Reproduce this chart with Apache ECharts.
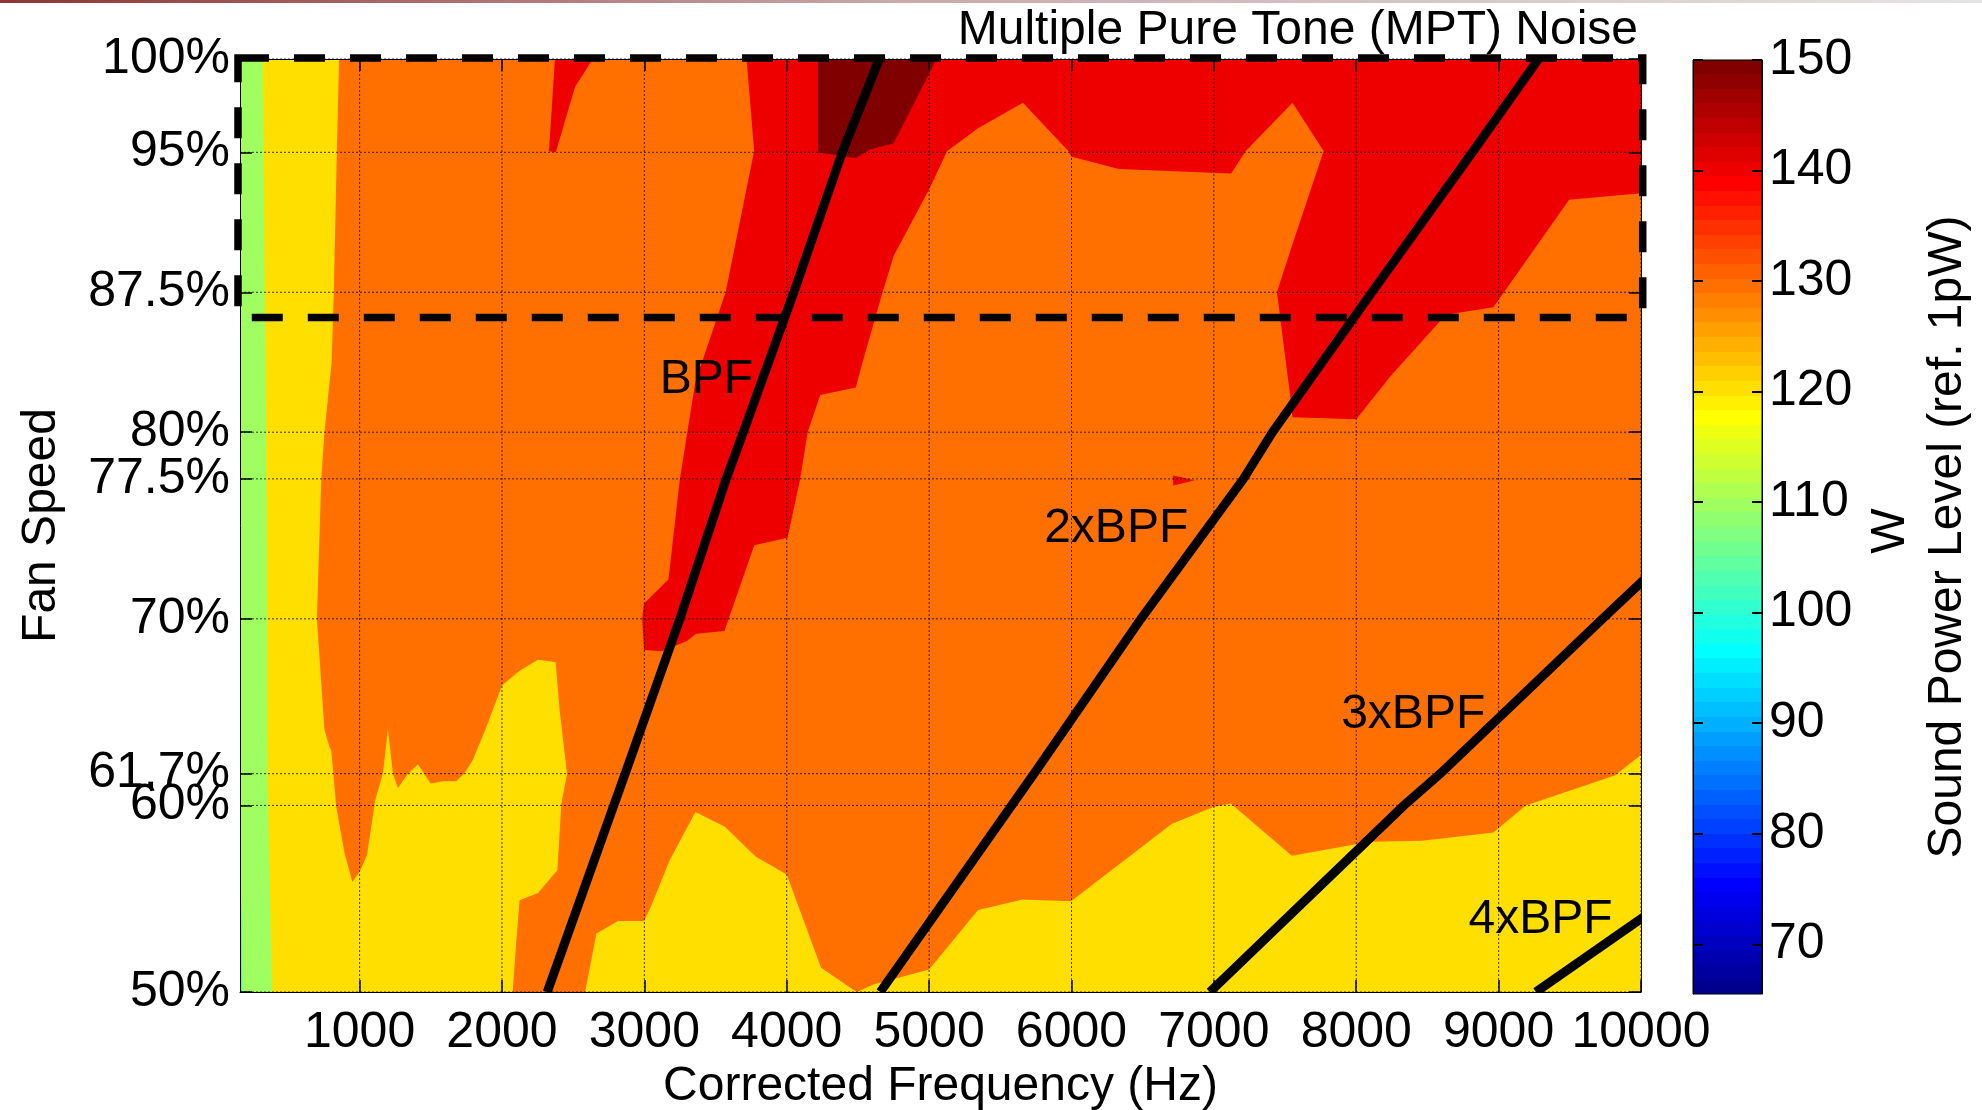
<!DOCTYPE html>
<html>
<head>
<meta charset="utf-8">
<title>Multiple Pure Tone (MPT) Noise</title>
<script src="https://cdn.jsdelivr.net/npm/echarts@6/dist/echarts.min.js"></script>
<style>
  html, body { margin: 0; padding: 0; background: #ffffff; }
  #chart { width: 1982px; height: 1110px; }
</style>
</head>
<body>
<div id="chart"></div>
<script>
// ---- Axis ranges and ticks ----
const freqRange = [160, 10000];          // Hz
const speedRange = [50, 100];            // % fan speed
const levelRange = [65.5, 150];          // dB re 1 pW (colour scale)

const freqTicks = [1000, 2000, 3000, 4000, 5000, 6000, 7000, 8000, 9000, 10000];
const speedTicks = [50, 60, 61.7, 70, 77.5, 80, 87.5, 95, 100];
const levelTicks = [70, 80, 90, 100, 110, 120, 130, 140, 150];

// ---- Blade passing frequency and harmonics at the measured speeds ----
const bpfSpeeds = [50, 60, 61.7, 70, 77.5, 80, 87.5, 95, 100];
const bpf1x = [2318, 2785, 2865, 3250, 3575, 3695, 4050, 4390, 4650];
const bpf2x = [4657, 5580, 5737, 6488, 7208, 7412, 8110, 8815, 9280];
const bpf3xSpeeds = [50, 60, 61.7, 70, 77.5];
const bpf3x = [6972, 8335, 8590, 9730, 10770];
const bpf4xSpeeds = [50, 60];
const bpf4x = [9262, 11140];

// ---- Filled contour outlines [frequency (Hz), fan speed (%)] ----
const contour110 = [[160, 50], [10000, 50], [10000, 100], [160, 100]];
const contour100 = [[160, 50], [176, 50], [172, 54], [160, 57]];
const contour120 = [[320, 100], [334, 87.5], [344, 80], [350, 70], [352, 61.7], [386, 50], [10000, 50], [10000, 100]];
const contour130 = [
  [856, 100], [840, 95], [819, 87.5], [803, 83.7], [753, 80], [731, 77.5], [700, 70],
  [753, 64.06], [789, 63.12], [801, 62.95], [836, 59.92], [895, 57.42], [949, 55.9],
  [1000, 56.44], [1052, 57.33], [1110, 60.27], [1164, 61.73], [1199, 64.1], [1234, 61.7],
  [1269, 60.93], [1340, 61.7], [1410, 62.2], [1499, 61.17], [1586, 61.3], [1679, 61.3],
  [1738, 61.73], [1796, 62.45], [1890, 64.19], [2000, 66.42], [2124, 67.22], [2253, 67.8],
  [2377, 67.67], [2405, 65.08], [2457, 61.7], [2417, 60.09], [2389, 56.53], [2253, 55.31],
  [2124, 54.92], [2101, 52.78], [2075, 50], [2584, 50], [2663, 53.14], [2815, 53.8],
  [2998, 53.8], [3047, 54.6], [3178, 57.06], [3359, 59.65], [3565, 58.85], [3781, 57.26],
  [4000, 56.3], [4241, 51.3], [4491, 50.0], [4609, 50.4], [5000, 51.2], [5344, 54.4],
  [5656, 54.96], [5997, 54.87], [6703, 59.0], [6991, 59.9], [7119, 60.1], [7547, 57.3],
  [8097, 58.05], [8462, 58.1], [8963, 58.55], [9191, 60.0], [9815, 61.6], [10000, 62.7],
  [10000, 100]
];
const contour140a = [
  [3718, 100], [10000, 100], [10000, 92.8], [9495, 92.46], [8963, 86.7], [8629, 86.3],
  [8240, 83.0], [8000, 80.7], [7552, 80.8], [7537, 81.9], [7506, 83.74], [7443, 87.5],
  [7552, 90.07], [7771, 95.07], [7552, 97.65], [7224, 95.07], [7121, 93.86], [6332, 94.1],
  [5997, 94.77], [5981, 95.04], [5659, 97.65], [5346, 96.3], [5127, 95.07], [5002, 93.05],
  [4751, 89.44], [4673, 87.5], [4532, 83.74], [4485, 82.4], [4235, 82.0], [4147, 80.0],
  [4093, 77.45], [4006, 74.34], [3772, 73.94], [3562, 69.34], [3365, 69.2], [3296, 68.8],
  [3120, 68.26], [2998, 68.33], [2985, 70.0], [2997, 70.8], [3169, 72.1], [3249, 77.45],
  [3358, 82.7], [3571, 87.5], [3771, 95.07]
];
const contour140b = [[2372, 100], [2638, 100], [2513, 98.5], [2378, 95.0], [2330, 95.05]];
const contour140c = [[6714, 77.68], [6864, 77.43], [6714, 77.15]];
const contour150 = [[4219, 100], [5049, 100], [5002, 99.24], [4751, 95.49], [4579, 95.13], [4485, 94.68], [4219, 95.0]];

// ---- Harmonic labels ----
const harmonicNames = ['BPF', '2xBPF', '3xBPF', '4xBPF'];
const harmonicLabelAt = [[3436, 83.0], [6314, 75.04], [8400, 65.05], [9294, 54.08]];

// ---- Highlighted MPT region (dashed box) ----
const mptBox = [[146, 100.05], [10012, 100.05], [10012, 86.15], [146, 86.15]];

const FONT = "'Liberation Sans', Arial, Helvetica, sans-serif";
const TICK_FONT = 50;
const TEXT_FONT = 48;

// MATLAB-style jet colormap with m entries
function jetColormap(m) {
  const n = Math.ceil(m / 4);
  const u = [];
  for (let i = 1; i <= n; i++) u.push(i / n);
  for (let i = 1; i < n; i++) u.push(1);
  for (let i = n; i >= 1; i--) u.push(i / n);
  const gOff = Math.ceil(n / 2) - (m % 4 === 1 ? 1 : 0);
  const J = Array.from({ length: m }, () => [0, 0, 0]);
  for (let k = 0; k < u.length; k++) {
    const g = gOff + k + 1, r = g + n, b = g - n;
    if (r >= 1 && r <= m) J[r - 1][0] = u[k];
    if (g >= 1 && g <= m) J[g - 1][1] = u[k];
    if (b >= 1 && b <= m) J[b - 1][2] = u[k];
  }
  return J.map(c => 'rgb(' + c.map(v => Math.round(v * 255)).join(',') + ')');
}
const JET = jetColormap(64);
function levelColor(v) {
  const t = (v - levelRange[0]) / (levelRange[1] - levelRange[0]);
  return JET[Math.min(63, Math.max(0, Math.floor(t * 64)))];
}

// Draw order of the filled regions (lowest level first)
const regions = [
  { level: 110, pts: contour110 },
  { level: 100, pts: contour100 },
  { level: 120, pts: contour120 },
  { level: 130, pts: contour130 },
  { level: 140, pts: contour140a },
  { level: 140, pts: contour140b },
  { level: 140, pts: contour140c },
  { level: 150, pts: contour150 }
];

const harmonics = [
  { speeds: bpfSpeeds, freqs: bpf1x },
  { speeds: bpfSpeeds, freqs: bpf2x },
  { speeds: bpf3xSpeeds, freqs: bpf3x },
  { speeds: bpf4xSpeeds, freqs: bpf4x }
];

const gridLineData = freqTicks.map(f => [0, f]).concat(speedTicks.map(s => [1, s]));

// Stepped gradient for the colour bar
const cbStops = [];
JET.forEach((c, i) => {
  cbStops.push({ offset: i / 64, color: c });
  cbStops.push({ offset: (i + 1) / 64, color: c });
});

const chart = echarts.init(document.getElementById('chart'), null, { renderer: 'canvas' });

const tickStyle = { color: '#000', width: 1.5 };
const option = {
  animation: false,
  backgroundColor: '#ffffff',
  textStyle: { fontFamily: FONT },
  grid: [
    { left: 240, top: 59, width: 1401, height: 933, outerBoundsMode: 'none', containLabel: false },
    { left: 1693, top: 60, width: 69, height: 934, outerBoundsMode: 'none', containLabel: false }
  ],
  xAxis: [
    {
      gridIndex: 0, type: 'value', min: freqRange[0], max: freqRange[1], position: 'bottom', z: 10,
      axisLine: { show: true, onZero: false, lineStyle: { color: '#000', width: 1 } },
      axisTick: { show: true, inside: true, length: 12, customValues: freqTicks, lineStyle: tickStyle },
      axisLabel: { show: true, customValues: freqTicks, formatter: v => String(v), fontSize: TICK_FONT, color: '#000', margin: 16, fontFamily: FONT },
      splitLine: { show: false },
      name: 'Corrected Frequency (Hz)', nameLocation: 'middle', nameGap: 71,
      nameTextStyle: { fontSize: TEXT_FONT, color: '#000', fontFamily: FONT }
    },
    {
      gridIndex: 0, type: 'value', min: freqRange[0], max: freqRange[1], position: 'top', z: 10,
      axisLine: { show: true, onZero: false, lineStyle: { color: '#000', width: 1 } },
      axisTick: { show: true, inside: true, length: 12, customValues: freqTicks, lineStyle: tickStyle },
      axisLabel: { show: false }, splitLine: { show: false }
    },
    { gridIndex: 1, type: 'value', min: 0, max: 1, show: false }
  ],
  yAxis: [
    {
      gridIndex: 0, type: 'value', min: speedRange[0], max: speedRange[1], position: 'left', z: 10,
      axisLine: { show: true, onZero: false, lineStyle: { color: '#000', width: 1 } },
      axisTick: { show: true, inside: true, length: 12, customValues: speedTicks, lineStyle: tickStyle },
      axisLabel: { show: true, customValues: speedTicks, formatter: v => v + '%', fontSize: TICK_FONT, color: '#000', margin: 10, padding: [14, 0, 0, 0], fontFamily: FONT },
      splitLine: { show: false },
      name: 'Fan Speed', nameLocation: 'middle', nameGap: 174,
      nameTextStyle: { fontSize: TEXT_FONT, color: '#000', fontFamily: FONT }
    },
    {
      gridIndex: 0, type: 'value', min: speedRange[0], max: speedRange[1], position: 'right', z: 10,
      axisLine: { show: true, onZero: false, lineStyle: { color: '#000', width: 1 } },
      axisTick: { show: true, inside: true, length: 12, customValues: speedTicks, lineStyle: tickStyle },
      axisLabel: { show: false }, splitLine: { show: false }
    },
    {
      gridIndex: 1, type: 'value', min: levelRange[0], max: levelRange[1], position: 'right', z: 10,
      axisLine: { show: true, onZero: false, lineStyle: { color: '#000', width: 1 } },
      axisTick: { show: true, inside: true, length: 10, customValues: levelTicks, lineStyle: { color: '#000', width: 2 } },
      axisLabel: { show: true, customValues: levelTicks, formatter: v => String(v), fontSize: TICK_FONT, color: '#000', margin: 7, padding: [14, 0, 0, 0], fontFamily: FONT },
      splitLine: { show: false }
    },
    {
      gridIndex: 1, type: 'value', min: levelRange[0], max: levelRange[1], position: 'left', z: 10,
      axisLine: { show: true, onZero: false, lineStyle: { color: '#000', width: 1 } },
      axisTick: { show: true, inside: true, length: 10, customValues: levelTicks, lineStyle: { color: '#000', width: 2 } },
      axisLabel: { show: false }, splitLine: { show: false }
    }
  ],
  graphic: [
    {
      type: 'rect', x: 0, y: 0, silent: true, shape: { width: 1982, height: 3 },
      style: { fill: new echarts.graphic.LinearGradient(0, 0, 1, 0, [
        { offset: 0, color: '#8f3434' }, { offset: 0.45, color: '#c8a8a8' }, { offset: 1, color: '#e4e4e4' }
      ]) }
    },
    {
      type: 'text', x: 1638, y: 31, silent: true,
      style: { text: 'Multiple Pure Tone (MPT) Noise', font: TEXT_FONT + 'px ' + FONT, fill: '#000', align: 'right', verticalAlign: 'middle' }
    },
    {
      type: 'text', x: 1948, y: 537, rotation: Math.PI / 2, silent: true,
      style: { text: 'Sound Power Level (ref. 1pW)', font: TEXT_FONT + 'px ' + FONT, fill: '#000', align: 'center', verticalAlign: 'middle' }
    },
    {
      type: 'text', x: 1891, y: 531, rotation: Math.PI / 2, silent: true,
      style: { text: 'W', font: TEXT_FONT + 'px ' + FONT, fill: '#000', align: 'center', verticalAlign: 'middle' }
    }
  ],
  series: [
    {
      // filled sound power level contours
      type: 'custom', coordinateSystem: 'cartesian2d', xAxisIndex: 0, yAxisIndex: 0,
      silent: true, z: 2, clip: false,
      data: regions.map((r, i) => [i]),
      renderItem: (params, api) => {
        const r = regions[params.dataIndex];
        return {
          type: 'polygon',
          shape: { points: r.pts.map(p => api.coord(p)) },
          style: { fill: levelColor(r.level), stroke: null }
        };
      }
    },
    {
      // dotted grid
      type: 'custom', coordinateSystem: 'cartesian2d', xAxisIndex: 0, yAxisIndex: 0,
      silent: true, z: 3, clip: false,
      data: gridLineData,
      renderItem: (params, api) => {
        const kind = api.value(0), v = api.value(1);
        const a = kind === 0 ? api.coord([v, speedRange[0]]) : api.coord([freqRange[0], v]);
        const b = kind === 0 ? api.coord([v, speedRange[1]]) : api.coord([freqRange[1], v]);
        return {
          type: 'line',
          shape: { x1: a[0], y1: a[1], x2: b[0], y2: b[1] },
          style: { stroke: 'rgba(0,0,0,0.75)', lineWidth: 1, lineDash: [2, 2] }
        };
      }
    },
    {
      // BPF harmonic lines
      type: 'custom', coordinateSystem: 'cartesian2d', xAxisIndex: 0, yAxisIndex: 0,
      silent: true, z: 4, clip: true,
      data: harmonics.map((h, i) => [i]),
      renderItem: (params, api) => {
        const h = harmonics[params.dataIndex];
        return {
          type: 'polyline',
          shape: { points: h.freqs.map((f, k) => api.coord([f, h.speeds[k]])) },
          style: { stroke: '#000', lineWidth: 9, fill: null, lineJoin: 'miter' }
        };
      }
    },
    {
      // dashed MPT region outline
      type: 'custom', coordinateSystem: 'cartesian2d', xAxisIndex: 0, yAxisIndex: 0,
      silent: true, z: 5, clip: false,
      data: [[0]],
      renderItem: (params, api) => ({
        type: 'polygon',
        shape: { points: mptBox.map(p => api.coord(p)) },
        style: { fill: null, stroke: '#000', lineWidth: 7.5, lineDash: [31, 25] }
      })
    },
    {
      // harmonic labels
      type: 'custom', coordinateSystem: 'cartesian2d', xAxisIndex: 0, yAxisIndex: 0,
      silent: true, z: 6, clip: false,
      data: harmonicLabelAt.map((p, i) => [i]),
      renderItem: (params, api) => {
        const p = api.coord(harmonicLabelAt[params.dataIndex]);
        return {
          type: 'text', x: p[0], y: p[1] + 4,
          style: { text: harmonicNames[params.dataIndex], font: TEXT_FONT + 'px ' + FONT, fill: '#000', align: 'center', verticalAlign: 'middle' }
        };
      }
    },
    {
      // colour bar
      type: 'custom', coordinateSystem: 'cartesian2d', xAxisIndex: 2, yAxisIndex: 2,
      silent: true, z: 2, clip: false,
      data: [[0]],
      renderItem: (params, api) => {
        const p0 = api.coord([0, levelRange[0]]);
        const p1 = api.coord([1, levelRange[1]]);
        return {
          type: 'rect',
          shape: { x: p0[0], y: p1[1], width: p1[0] - p0[0], height: p0[1] - p1[1] },
          style: { fill: new echarts.graphic.LinearGradient(0, 1, 0, 0, cbStops), stroke: '#000', lineWidth: 1 }
        };
      }
    }
  ]
};

chart.setOption(option);
</script>
</body>
</html>
